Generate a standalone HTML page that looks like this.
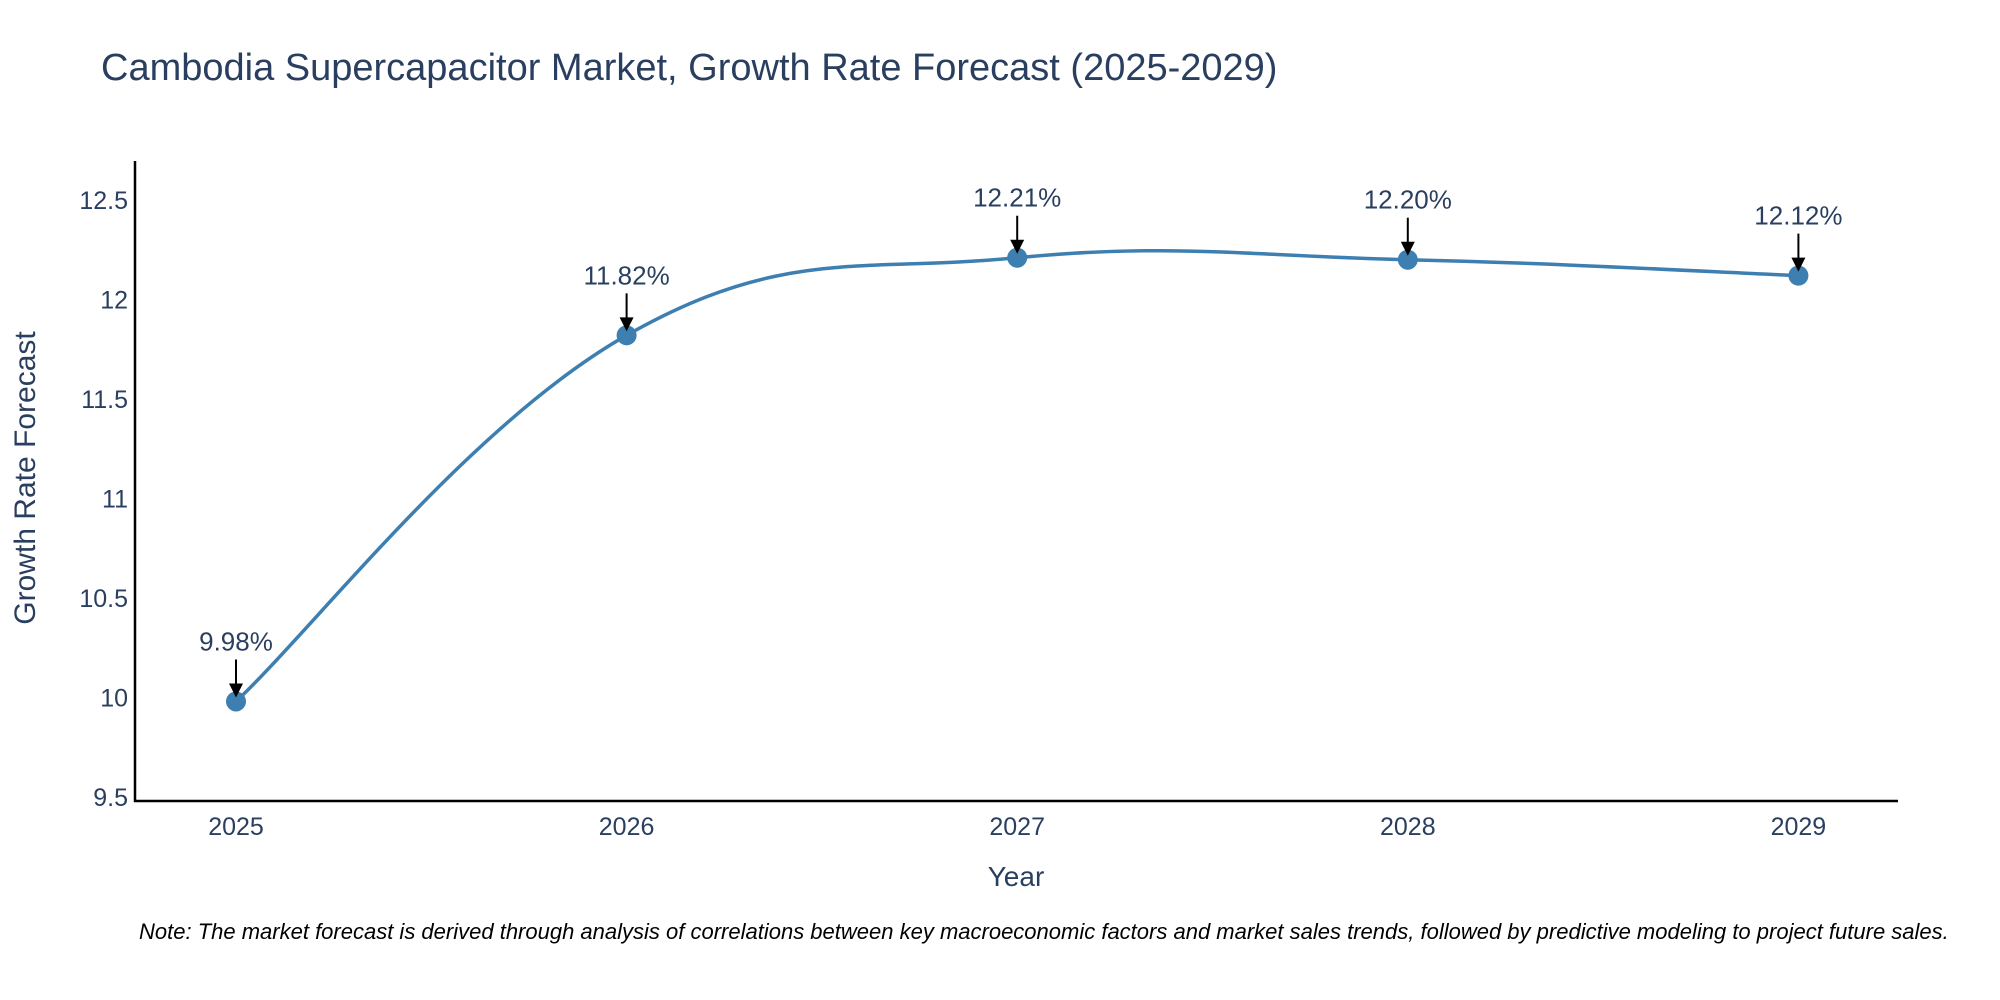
<!DOCTYPE html>
<html><head><meta charset="utf-8"><style>
body{margin:0;background:#fff;}
svg{display:block;font-family:"Liberation Sans",Arial,sans-serif;}
</style></head><body>
<svg id="chart" width="2000" height="1000" viewBox="0 0 2000 1000">
<text x="101" y="80" font-size="38" fill="#2a3f5f">Cambodia Supercapacitor Market, Growth Rate Forecast (2025-2029)</text>
<g id="yticks"></g>
<g id="xticks"></g>
<line x1="135" y1="161" x2="135" y2="802" stroke="#000" stroke-width="2.5"/>
<line x1="134" y1="801" x2="1898" y2="801" stroke="#000" stroke-width="2.5"/>
<path id="line" fill="none" stroke="#3d7fb0" stroke-width="3.5"/>
<g id="marks"></g>
<text x="1016" y="886" font-size="28" fill="#2a3f5f" text-anchor="middle">Year</text>
<text transform="translate(35,478) rotate(-90)" font-size="30" fill="#2a3f5f" text-anchor="middle">Growth Rate Forecast</text>
<text x="139" y="939" font-size="22" font-style="italic" fill="#000">Note: The market forecast is derived through analysis of correlations between key macroeconomic factors and market sales trends, followed by predictive modeling to project future sales.</text>
</svg>
<script>
const years=[2025,2026,2027,2028,2029];
const values=[9.98,11.82,12.21,12.20,12.12];
const labels=["9.98%","11.82%","12.21%","12.20%","12.12%"];
const yTicks=[9.5,10,10.5,11,11.5,12,12.5];
const yTickLabels=["9.5","10","10.5","11","11.5","12","12.5"];
const NS="http://www.w3.org/2000/svg";
const xs=y=>236+(y-2025)*390.6;
const ys=v=>797-(v-9.5)*199;
function mk(t,a,p){const e=document.createElementNS(NS,t);for(const k in a)e.setAttribute(k,a[k]);p.appendChild(e);return e;}
const yt=document.getElementById('yticks');
yTicks.forEach((v,i)=>{const t=mk('text',{x:128,y:ys(v)+9,'font-size':25,fill:'#2a3f5f','text-anchor':'end'},yt);t.textContent=yTickLabels[i];

});
const xt=document.getElementById('xticks');
years.forEach(y=>{const t=mk('text',{x:xs(y),y:835,'font-size':25,fill:'#2a3f5f','text-anchor':'middle'},xt);t.textContent=y;

});
const P=years.map((y,i)=>[xs(y),ys(values[i])]);
let d=`M${P[0][0]},${P[0][1]}`;const s=0.2;
for(let i=0;i<P.length-1;i++){const p0=P[Math.max(i-1,0)],p1=P[i],p2=P[i+1],p3=P[Math.min(i+2,P.length-1)];
d+=` C${p1[0]+(p2[0]-p0[0])*s},${p1[1]+(p2[1]-p0[1])*s} ${p2[0]-(p3[0]-p1[0])*s},${p2[1]-(p3[1]-p1[1])*s} ${p2[0]},${p2[1]}`;}
document.getElementById('line').setAttribute('d',d);
const g=document.getElementById('marks');
P.forEach((p,i)=>{const c=mk('circle',{cx:p[0],cy:p[1],r:10,fill:'#3d7fb0'},g);


const l=mk('line',{x1:p[0],y1:p[1]-42,x2:p[0],y2:p[1]-14,stroke:'#000','stroke-width':2},g);


const h=mk('polygon',{points:`${p[0]-7},${p[1]-18} ${p[0]+7},${p[1]-18} ${p[0]},${p[1]-4}`,fill:'#000'},g);


const t=mk('text',{x:p[0],y:p[1]-51,'font-size':26,fill:'#2a3f5f','text-anchor':'middle'},g);t.textContent=labels[i];

});
</script>
</body></html>
